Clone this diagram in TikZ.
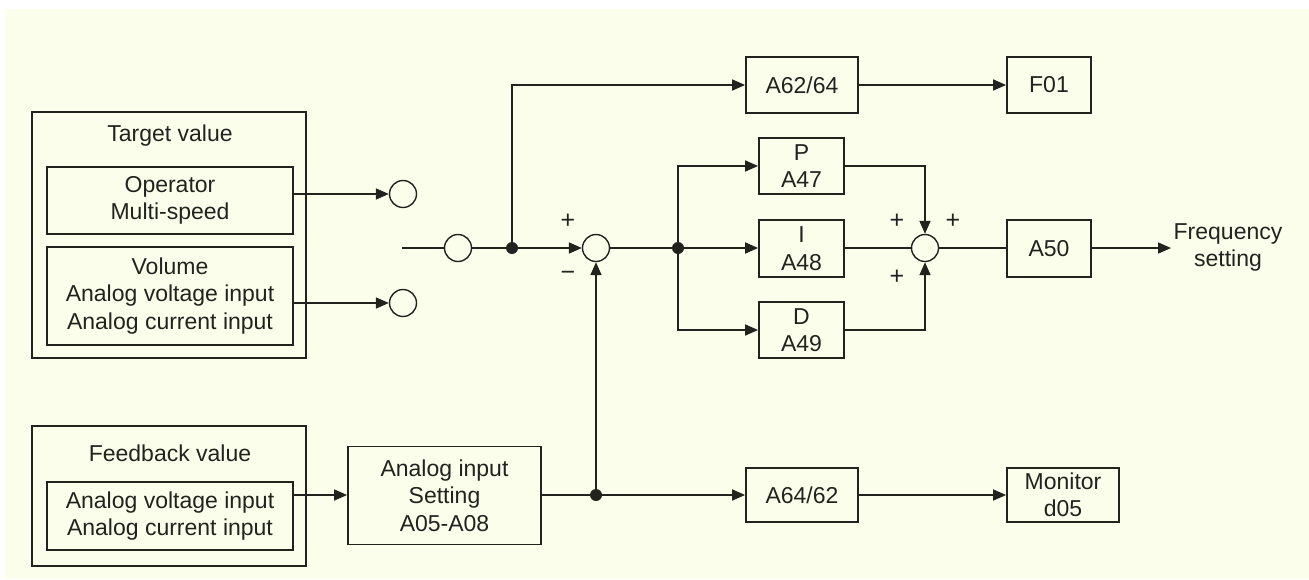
\documentclass[tikz,border=0pt]{standalone}
\usepackage{fontspec}
\setmainfont{Liberation Sans}
\usetikzlibrary{arrows.meta}
\definecolor{bgc}{RGB}{252,254,236}
\definecolor{ink}{RGB}{34,34,30}
\begin{document}
\begin{tikzpicture}[x=1pt,y=-1pt,
  font=\fontsize{23}{27.5}\selectfont,
  every node/.style={text=ink,align=center},
  blk/.style={draw=ink,line width=1.8pt,inner sep=0pt,align=center},
  sumc/.style={draw=ink,line width=1.4pt,circle,minimum size=27pt,inner sep=0pt},
  jdot/.style={fill=ink,circle,minimum size=12pt,inner sep=0pt},
  wire/.style={draw=ink,line width=1.7pt},
  arr/.style={wire,-{Triangle[length=13pt,width=11pt]}},
  sgn/.style={font=\fontsize{25}{25}\selectfont,inner sep=0pt}]
\useasboundingbox (0,0) rectangle (1309,579);
\fill[white] (0,0) rectangle (1309,579);
\fill[bgc] (5,9) rectangle (1309,579);
% left blocks
\node[blk,minimum width=274pt,minimum height=246pt] (tgt) at (169,235) {};
\node (tgtl) at (170,136) {Target value};
\node[blk,minimum width=246pt,minimum height=67pt] (op) at (170,200.5) {Operator\\Multi-speed};
\node[blk,minimum width=246pt,minimum height=98pt] (vol) at (170,296) {Volume\\Analog voltage input\\Analog current input};
\node[blk,minimum width=274pt,minimum height=140pt] (fb) at (169,496) {};
\node (fbl) at (170,453) {Feedback value};
\node[blk,minimum width=246pt,minimum height=68pt] (fbin) at (170,516) {Analog voltage input\\Analog current input};
\node[blk,minimum width=193pt,minimum height=98pt] (ain) at (444.5,495.5) {Analog input\\Setting\\A05-A08};
% right blocks
\node[blk,minimum width=112pt,minimum height=56pt] (a6264) at (802,85) {A62/64};
\node[blk,minimum width=84pt,minimum height=56pt] (f01) at (1049,85) {F01};
\node[blk,minimum width=85pt,minimum height=56pt] (pb) at (801.5,166) {P\\A47};
\node[blk,minimum width=85pt,minimum height=57pt] (ib) at (801.5,248.5) {I\\A48};
\node[blk,minimum width=85pt,minimum height=56pt] (db) at (801.5,330) {D\\A49};
\node[blk,minimum width=84pt,minimum height=57pt] (a50) at (1049,248.5) {A50};
\node[blk,minimum width=112pt,minimum height=54pt] (a6462) at (802,495) {A64/62};
\node[blk,minimum width=112pt,minimum height=54pt] (mon) at (1063,495) {Monitor\\d05};
\node (freq) at (1228,247.5) {Frequency\\setting};
% circles and dots
\node[sumc] (c1) at (403,194) {};
\node[sumc] (c2) at (403,303) {};
\node[sumc] (cm) at (458,248) {};
\node[sumc] (s1) at (596,248) {};
\node[sumc] (s2) at (925,248) {};
\node[jdot] (d1) at (512,248) {};
\node[jdot] (d2) at (678,248) {};
\node[jdot] (d3) at (596,495) {};
\coordinate (in) at (402,248);
\coordinate (fout) at (1171,248);
% signs
\node[sgn] (p1) at (568,221) {+};
\node[sgn] (m1) at (568,276) {\textminus};
\node[sgn] (p2) at (897,221) {+};
\node[sgn] (p3) at (953,221) {+};
\node[sgn] (p4) at (897,277) {+};
% connectors
\draw[arr] (op.east |- c1) -- (c1.west);
\draw[arr] (vol.east |- c2) -- (c2.west);
\draw[wire] (in) -- (cm.west);
\draw[wire] (cm.east) -- (d1);
\draw[arr] (d1) -- (s1.west);
\draw[arr] (d1) |- (a6264.west);
\draw[arr] (a6264.east) -- (f01.west);
\draw[wire] (s1.east) -- (d2);
\draw[arr] (d2) |- (pb.west);
\draw[arr] (d2) -- (ib.west |- d2);
\draw[arr] (d2) |- (db.west);
\draw[arr] (pb.east) -| (s2.north);
\draw[wire] (ib.east |- s2) -- (s2.west);
\draw[arr] (db.east) -| (s2.south);
\draw[wire] (s2.east) -- (a50.west |- s2);
\draw[arr] (a50.east |- fout) -- (fout);
\draw[arr] (fbin.east |- d3) -- (ain.west |- d3);
\draw[wire] (ain.east |- d3) -- (d3);
\draw[arr] (d3) -- (s1.south);
\draw[arr] (d3) -- (a6462.west);
\draw[arr] (a6462.east) -- (mon.west);
\end{tikzpicture}
\end{document}
